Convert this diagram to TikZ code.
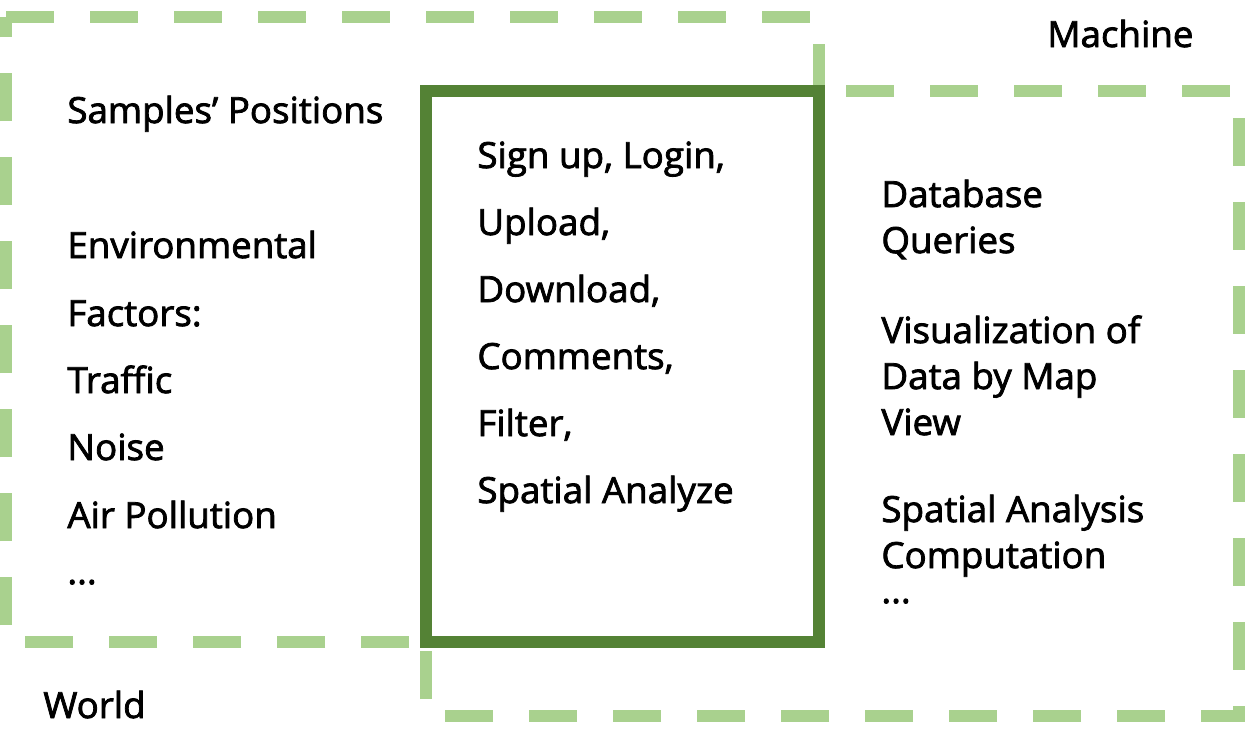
\documentclass[tikz,border=0pt]{standalone}
\usepackage{fontspec}
\newfontfamily\tf{Open Sans}[FakeBold=2.2,FakeStretch=1.02]
\definecolor{lightgr}{HTML}{A9D18E}
\definecolor{darkgr}{HTML}{548235}
\tikzset{
  dashbox/.style={draw=lightgr, line width=6pt, dash pattern=on 24pt off 18pt},
  solidbox/.style={draw=darkgr, line width=6pt},
  lbl/.style={anchor=base west, inner sep=0pt, font=\tf\fontsize{18}{21}\selectfont, text=black}
}
\begin{document}
\begin{tikzpicture}[x=0.5pt,y=-0.5pt]
\useasboundingbox (0,0) rectangle (1245,752);
\fill[white] (0,0) rectangle (1245,752);
% World box
\draw[dashbox] (6,17) -- (819,17) -- (819,642) -- (6,642) -- cycle;
% Machine box
\draw[dashbox] (426,91) -- (1239,91) -- (1239,716) -- (426,716) -- cycle;
% Interface box
\draw[solidbox] (426,91) rectangle (819,642);
% labels
\node[lbl] (machine) at (1047,47) {Machine};
\node[lbl] (world) at (43,718) {World};
% left column
\node[lbl] (samples) at (67,123) {Samples’ Positions};
\node[lbl] (env) at (67,258) {Environmental};
\node[lbl] (factors) at (67,326) {Factors:};
\node[lbl] (traffic) at (67,393) {Traffic};
\node[lbl] (noise) at (67,460) {Noise};
\node[lbl] (air) at (67,528) {Air Pollution};
\node[lbl] (ldots) at (67,584) {...};
% middle column
\node[lbl] (sign) at (477,168) {Sign up, Login,};
\node[lbl] (upload) at (477,235) {Upload,};
\node[lbl] (download) at (477,302) {Download,};
\node[lbl] (comments) at (477,369) {Comments,};
\node[lbl] (filter) at (477,436) {Filter,};
\node[lbl] (spatial) at (477,503) {Spatial Analyze};
% right column
\node[lbl] (db) at (881,207) {Database};
\node[lbl] (queries) at (881,253) {Queries};
\node[lbl] (vis) at (881,343) {Visualization of};
\node[lbl] (data) at (881,389) {Data by Map};
\node[lbl] (view) at (881,435) {View};
\node[lbl] (sa) at (881,522) {Spatial Analysis};
\node[lbl] (comp) at (881,568) {Computation};
\node[lbl] (rdots) at (881,603) {...};
\end{tikzpicture}
\end{document}
